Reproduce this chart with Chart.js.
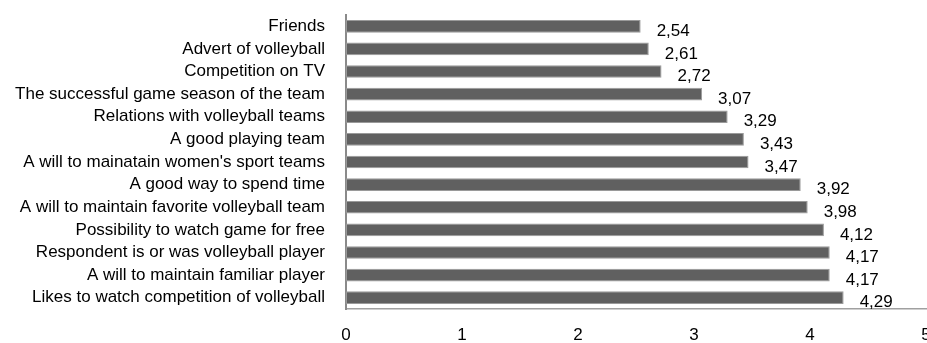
<!DOCTYPE html>
<html>
<head>
<meta charset="utf-8">
<script src="https://cdn.jsdelivr.net/npm/chart.js@4/dist/chart.umd.min.js"></script>
<style>
  html, body { margin: 0; padding: 0; background: #fff; overflow: hidden; }
  #wrap { width: 927px; height: 343px; }
</style>
</head>
<body>
<div id="wrap"><canvas id="c" width="927" height="343"></canvas></div>
<script>
const categories = [
  "Friends",
  "Advert of volleyball",
  "Competition on TV",
  "The successful game season of the team",
  "Relations with volleyball teams",
  "A good playing team",
  "A will to mainatain women's sport teams",
  "A good way to spend time",
  "A will to maintain favorite volleyball team",
  "Possibility to watch game for free",
  "Respondent is or was volleyball player",
  "A will to maintain familiar player",
  "Likes to watch competition of volleyball"
];
const values = [2.54, 2.61, 2.72, 3.07, 3.29, 3.43, 3.47, 3.92, 3.98, 4.12, 4.17, 4.17, 4.29];
const xTickLabels = ["0", "1", "2", "3", "4", "5"];

const FONT = "'Liberation Sans', Arial, sans-serif";

const valueLabels = {
  id: 'valueLabels',
  afterDatasetsDraw(chart) {
    const ctx = chart.ctx;
    const meta = chart.getDatasetMeta(0);
    ctx.save();
    ctx.font = "17px " + FONT;
    ctx.fillStyle = "#000";
    ctx.textAlign = "left";
    ctx.textBaseline = "middle";
    meta.data.forEach((bar, i) => {
      const txt = values[i].toFixed(2).replace('.', ',');
      ctx.fillText(txt, bar.x + 16, bar.y + 5);
    });
    ctx.restore();
  }
};

new Chart(document.getElementById('c'), {
  type: 'bar',
  data: {
    labels: categories,
    datasets: [{
      data: values,
      backgroundColor: '#606060',
      borderColor: '#9a9a9a',
      borderWidth: 1,
      borderSkipped: false,
      barPercentage: 0.56,
      categoryPercentage: 1.0
    }]
  },
  options: {
    indexAxis: 'y',
    responsive: false,
    animation: false,
    devicePixelRatio: 1,
    layout: { padding: { top: 15, right: 1, left: 0, bottom: 0 } },
    plugins: { legend: { display: false }, tooltip: { enabled: false } },
    scales: {
      x: {
        min: 0, max: 5,
        afterFit(s) { s.height = 34; s.paddingLeft = 0; s.paddingRight = 0; },
        grid: { display: false, drawTicks: false },
        border: { display: true, color: '#a0a0a0', width: 1.5 },
        ticks: {
          stepSize: 1,
          padding: 16,
          color: '#000',
          font: { family: FONT, size: 17 },
          callback: (v) => xTickLabels[v]
        }
      },
      y: {
        afterFit(s) { s.width = 346; s.paddingTop = 0; s.paddingBottom = 0; },
        grid: { display: false, drawTicks: false },
        border: { display: true, color: '#8a8a8a', width: 2 },
        ticks: {
          padding: 21,
          color: '#000',
          autoSkip: false,
          font: { family: FONT, size: 17 }
        }
      }
    }
  },
  plugins: [valueLabels]
});
</script>
</body>
</html>
